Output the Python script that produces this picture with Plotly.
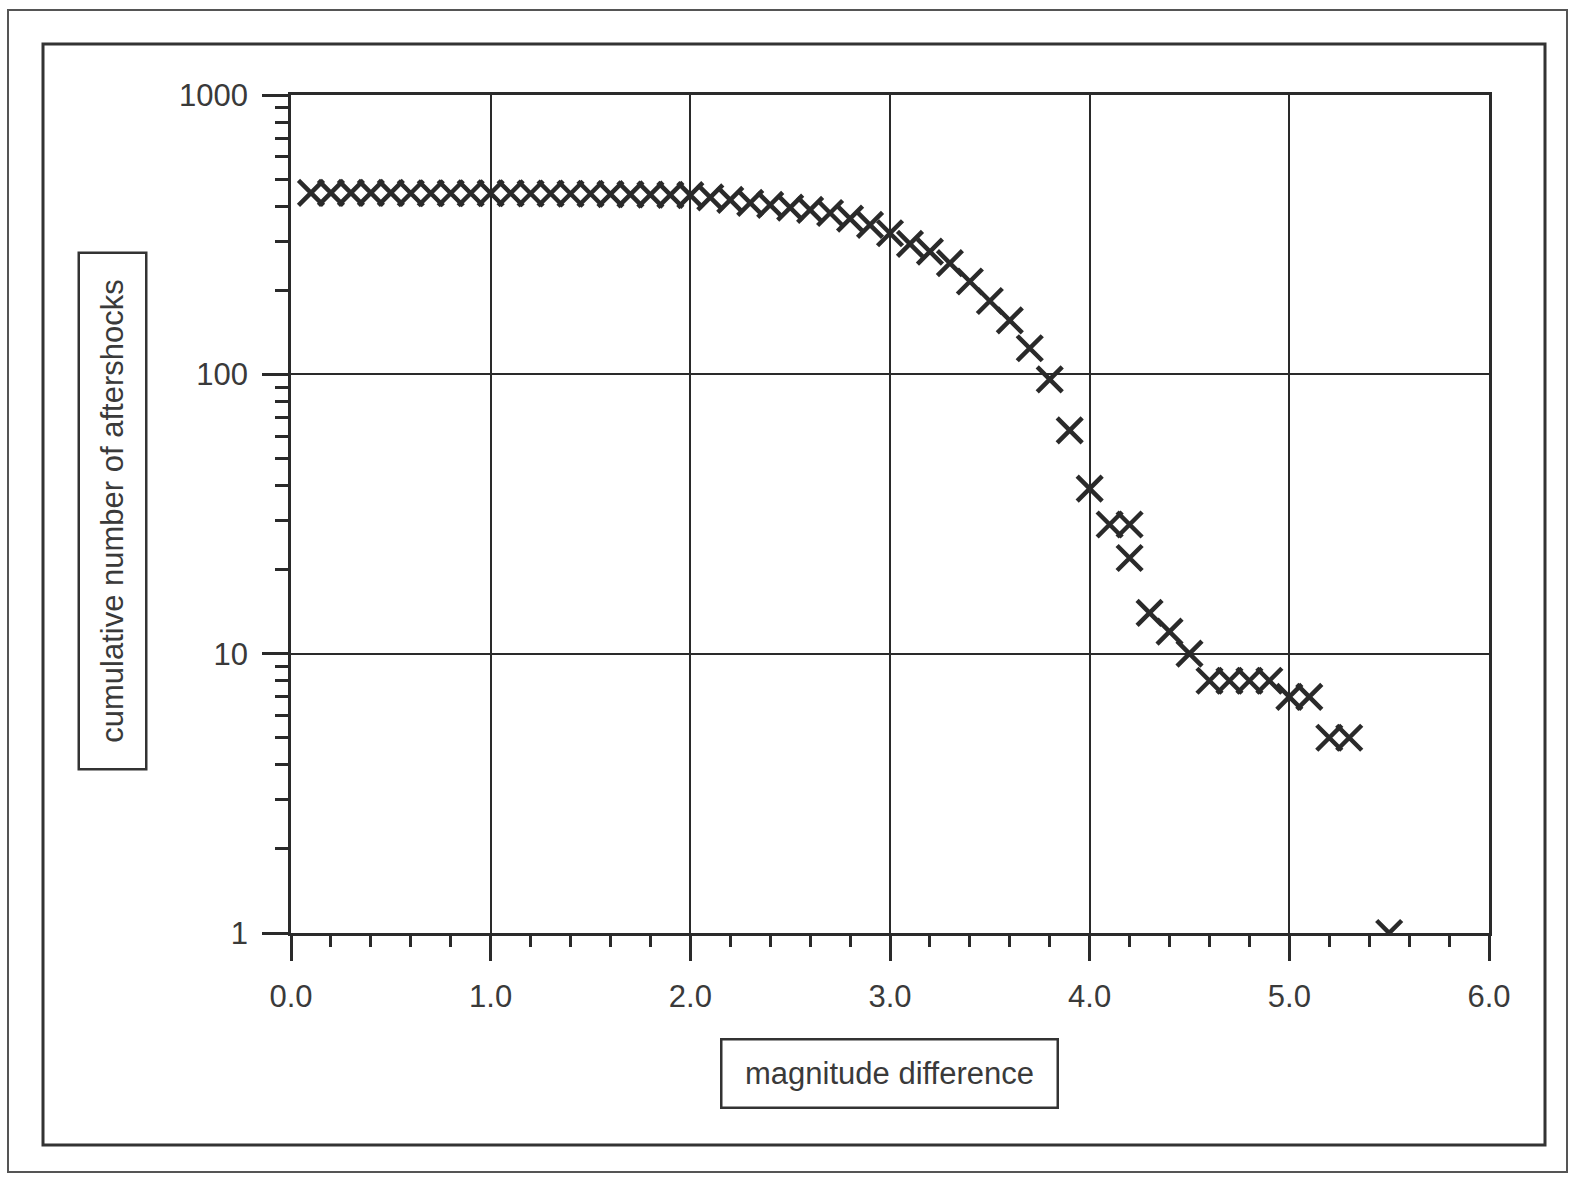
import plotly.graph_objects as go

# Cumulative number of aftershocks against magnitude difference
magnitude_diff = [
    0.1, 0.2, 0.3, 0.4, 0.5, 0.6, 0.7, 0.8, 0.9, 1.0,
    1.1, 1.2, 1.3, 1.4, 1.5, 1.6, 1.7, 1.8, 1.9, 2.0,
    2.1, 2.2, 2.3, 2.4, 2.5, 2.6, 2.7, 2.8, 2.9, 3.0,
    3.1, 3.2, 3.3, 3.4, 3.5, 3.6, 3.7, 3.8, 3.9, 4.0,
    4.1, 4.2, 4.2, 4.3, 4.4, 4.5, 4.6, 4.7, 4.8, 4.9,
    5.0, 5.1, 5.2, 5.3, 5.5,
]
cumulative_count = [
    446, 446, 446, 446, 446, 445, 445, 445, 445, 445,
    445, 444, 444, 443, 443, 442, 441, 440, 439, 438,
    430, 421, 411, 404, 395, 388, 378, 361, 343, 320,
    293, 275, 250, 215, 183, 156, 124, 96, 63, 39,
    29, 29, 22, 14, 12, 10, 8, 8, 8, 8,
    7, 7, 5, 5, 1,
]

x_tick_values = [0, 1, 2, 3, 4, 5, 6]
y_tick_values = [1, 10, 100, 1000]
y_tick_labels = ["1", "10", "100", "1000"]

x_title = "magnitude difference"
y_title = "cumulative number of aftershocks"

W, H = 1572, 1183
L, R, T, B = 291, 1489, 95, 933  # plot-area edges in pixels

def px(x):
    return (x - L) / (R - L)

def py(y):
    return (B - y) / (B - T)

FONT = "Liberation Sans, Arial, Helvetica, sans-serif"
INK = "#2a2a2a"
TXT = "#3a3a3a"

fig = go.Figure()
fig.add_trace(go.Scatter(
    x=magnitude_diff,
    y=cumulative_count,
    mode="markers",
    marker=dict(symbol="x-thin", size=25, color=INK,
                line=dict(width=4.5, color=INK)),
    showlegend=False,
    hoverinfo="x+y",
))

fig.update_layout(
    width=W, height=H,
    margin=dict(l=L, r=W - R, t=T, b=H - B, pad=0),
    paper_bgcolor="white",
    plot_bgcolor="white",
    font=dict(family=FONT, size=31, color=TXT),
    xaxis=dict(
        range=[0, 6],
        tickvals=x_tick_values,
        tickformat=".1f",
        ticks="outside", ticklen=25, tickwidth=2.5, tickcolor=INK,
        minor=dict(dtick=0.2, ticks="outside", ticklen=11,
                   tickwidth=2.5, tickcolor=INK, showgrid=False),
        showgrid=True, gridcolor=INK, gridwidth=2,
        showline=True, linecolor=INK, linewidth=2.5, mirror=True,
        zeroline=False,
        ticklabelstandoff=9,
        tickfont=dict(family=FONT, size=31, color=TXT),
    ),
    yaxis=dict(
        type="log",
        range=[0, 3],
        tickvals=y_tick_values,
        ticktext=y_tick_labels,
        ticks="outside", ticklen=26, tickwidth=2.5, tickcolor=INK,
        minor=dict(dtick="D1", ticks="outside", ticklen=13,
                   tickwidth=2.5, tickcolor=INK, showgrid=False),
        showgrid=True, gridcolor=INK, gridwidth=2,
        showline=True, linecolor=INK, linewidth=2.5, mirror=True,
        zeroline=False,
        ticklabelstandoff=8,
        tickfont=dict(family=FONT, size=31, color=TXT),
    ),
    shapes=[
        # outer page frame
        dict(type="rect", xref="paper", yref="paper",
             x0=px(8), x1=px(1567), y0=py(1172), y1=py(10),
             line=dict(color="#555555", width=2), layer="below"),
        # chart frame
        dict(type="rect", xref="paper", yref="paper",
             x0=px(43), x1=px(1545), y0=py(1145), y1=py(44),
             line=dict(color="#333333", width=3), layer="below"),
    ],
    annotations=[
        dict(text=x_title, xref="paper", yref="paper",
             x=px(889), y=py(1073), xanchor="center", yanchor="middle",
             showarrow=False, width=334, height=66,
             bordercolor="#333333", borderwidth=2.5, borderpad=0,
             font=dict(family=FONT, size=31, color=TXT)),
        dict(text=y_title, xref="paper", yref="paper",
             x=px(112.5), y=py(511), xanchor="center", yanchor="middle",
             showarrow=False, textangle=-90, width=514, height=65,
             bordercolor="#333333", borderwidth=2.5, borderpad=0,
             font=dict(family=FONT, size=31, color=TXT)),
    ],
)

fig.write_html("out.html")
